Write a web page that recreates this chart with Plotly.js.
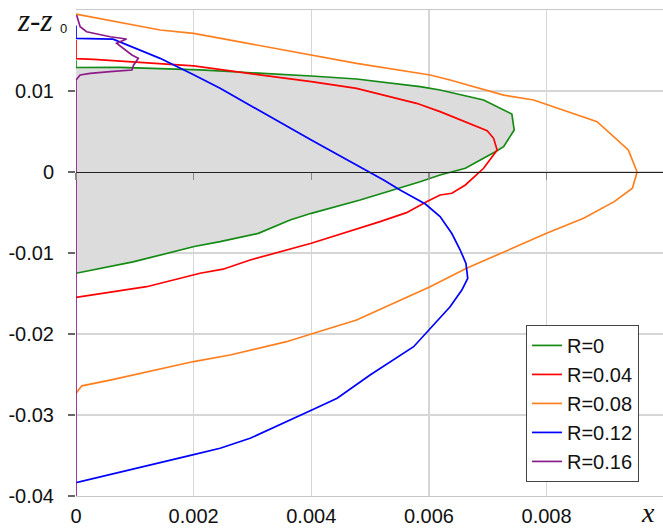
<!DOCTYPE html>
<html>
<head>
<meta charset="utf-8">
<script src="https://cdn.plot.ly/plotly-3.0.1.min.js"></script>
<style>html,body{margin:0;padding:0;background:#fff;}#chart{width:663px;height:529px;}</style>
</head>
<body>
<div id="chart"></div>
<script>
// R = 0
const r0x = [0, 0, 0.00075, 0.00143, 0.00211, 0.004, 0.00477, 0.00585, 0.00619, 0.00693, 0.00741, 0.00745, 0.00727, 0.00713, 0.00662, 0.00619, 0.00585, 0.00483, 0.004, 0.00364, 0.0031, 0.00245, 0.00201, 0.00097, 0];
const r0z = [0.0138, 0.0129, 0.01292, 0.01272, 0.0126, 0.01185, 0.01148, 0.01053, 0.01012, 0.00889, 0.00716, 0.00519, 0.00313, 0.00251, 0.00046, -0.00037, -0.0012, -0.00346, -0.0051, -0.00593, -0.00757, -0.0086, -0.0092, -0.0111, -0.0125];
// R = 0.04
const r04x = [0, 0, 0.0003, 0.00143, 0.002, 0.004, 0.00477, 0.00579, 0.00619, 0.00699, 0.0071, 0.00716, 0.00693, 0.00662, 0.00639, 0.00619, 0.00596, 0.00562, 0.00517, 0.004, 0.00296, 0.0025, 0.00211, 0.0012, 0];
const r04z = [0.0163, 0.0140, 0.0139, 0.0133, 0.01309, 0.01115, 0.01033, 0.00848, 0.00745, 0.0051, 0.00416, 0.00272, 0.00046, -0.0016, -0.00263, -0.00284, -0.00366, -0.00502, -0.00613, -0.0088, -0.01086, -0.012, -0.0125, -0.01416, -0.01547];
// R = 0.08
const r08x = [0, 0.00143, 0.002, 0.004, 0.00477, 0.00602, 0.00636, 0.00727, 0.00778, 0.00886, 0.00939, 0.00954, 0.00946, 0.00915, 0.00863, 0.008, 0.00721, 0.00664, 0.00602, 0.00551, 0.00477, 0.00404, 0.00358, 0.00262, 0.002, 0.00058, 0.0001, 0];
const r08z = [0.0195, 0.01753, 0.01712, 0.01444, 0.0134, 0.01198, 0.01136, 0.0095, 0.00889, 0.00621, 0.00272, 0.0, -0.00201, -0.00366, -0.00572, -0.00757, -0.01004, -0.01189, -0.01416, -0.0158, -0.01827, -0.01991, -0.02095, -0.02259, -0.0234, -0.0257, -0.0264, -0.0273];
// R = 0.12
const r12x = [0, 0, 0.00063, 0.00143, 0.002, 0.00245, 0.004, 0.00483, 0.005, 0.00523, 0.00551, 0.00594, 0.00619, 0.00639, 0.00653, 0.00663, 0.00666, 0.00656, 0.00636, 0.00602, 0.00574, 0.005, 0.00444, 0.00401, 0.00296, 0.00245, 0.002, 0];
const r12z = [0.0181, 0.0165, 0.0164, 0.01403, 0.012, 0.01033, 0.00395, 0.00065, 0.0, -0.00099, -0.00222, -0.00395, -0.0055, -0.0076, -0.0096, -0.01128, -0.01313, -0.01457, -0.01663, -0.0193, -0.02157, -0.02506, -0.02794, -0.02938, -0.03288, -0.0341, -0.0349, -0.03836];
// R = 0.16
const r16x = [0.00001, 0.00007, 0.00018, 0.00058, 0.00086, 0.00069, 0.00095, 0.00106, 0.00098, 0.00095, 0.00058, 0.00024, 0.00007, 0, 0];
const r16z = [0.01938, 0.01794, 0.01732, 0.0167, 0.01642, 0.01589, 0.01444, 0.01403, 0.01321, 0.01259, 0.01238, 0.01218, 0.01198, 0.01136, -0.04];

const seriesNames = ['R=0', 'R=0.04', 'R=0.08', 'R=0.12', 'R=0.16'];
const xTickVals = [0, 0.002, 0.004, 0.006, 0.008];
const xTickText = ['0', '0.002', '0.004', '0.006', '0.008'];
const yTickVals = [-0.04, -0.03, -0.02, -0.01, 0, 0.01];
const yTickText = ['-0.04', '-0.03', '-0.02', '-0.01', '0', '0.01'];

const colors = ['#138a13', '#ff0000', '#ff7f1e', '#0000ff', '#8b1a8b'];
const xs = [r0x, r04x, r08x, r12x, r16x];
const zs = [r0z, r04z, r08z, r12z, r16z];

const traces = [{
  x: r0x, y: r0z, mode: 'lines', fill: 'toself', fillcolor: '#dcdcdc',
  line: {width: 0, color: 'rgba(0,0,0,0)'}, showlegend: false, hoverinfo: 'skip'
}];
for (let i = 0; i < 5; i++) {
  traces.push({x: xs[i], y: zs[i], mode: 'lines', name: seriesNames[i],
    line: {color: colors[i], width: 1.7}});
}
traces.push({x: [null], y: [null], xaxis: 'x2', showlegend: false, mode: 'lines'});

const tickFont = {family: 'Liberation Sans, Arial, sans-serif', size: 20, color: '#111'};
const layout = {
  width: 663, height: 529,
  margin: {l: 76, r: 0, t: 10, b: 33},
  paper_bgcolor: '#fff', plot_bgcolor: '#fff',
  showlegend: true,
  xaxis: {
    range: [0, 0.00998], tickvals: xTickVals, ticktext: xTickText,
    showgrid: true, gridcolor: '#d6d6d6', gridwidth: 1.3,
    zeroline: false, showline: true, mirror: true, linecolor: '#c8c8c8', linewidth: 1.3,
    ticks: '', tickfont: tickFont, ticklabelstandoff: 2
  },
  xaxis2: {
    overlaying: 'x', anchor: 'free', position: 0.6667, side: 'bottom',
    range: [0, 0.00998], tickvals: xTickVals,
    showgrid: false, zeroline: false, showline: true, linecolor: '#222', linewidth: 1.2,
    ticks: 'outside', ticklen: 7, tickcolor: '#888', tickwidth: 1.2, showticklabels: false
  },
  yaxis: {
    range: [-0.04, 0.02], tickvals: yTickVals, ticktext: yTickText,
    showgrid: true, gridcolor: '#d6d6d6', gridwidth: 1.3,
    zeroline: false, showline: false,
    ticks: 'outside', ticklen: 7, tickcolor: '#666', tickwidth: 1.2,
    tickfont: tickFont, ticklabelstandoff: 10
  },
  legend: {
    x: 0.7666, y: 0.352, xanchor: 'left', yanchor: 'top',
    bgcolor: '#fff', bordercolor: '#444', borderwidth: 1,
    font: {family: 'Liberation Sans, Arial, sans-serif', size: 20, color: '#111'},
    itemwidth: 30
  },
  annotations: [
    {xref: 'paper', yref: 'paper', x: -0.104, y: 0.979, xanchor: 'left', yanchor: 'middle',
      text: 'z-z', showarrow: false,
      font: {family: 'Liberation Serif, Times New Roman, serif', size: 31, color: '#111', style: 'italic'}},
    {xref: 'paper', yref: 'paper', x: -0.021, y: 0.962, xanchor: 'center', yanchor: 'middle',
      text: '0', showarrow: false,
      font: {family: 'Liberation Sans, Arial, sans-serif', size: 13, color: '#111'}},
    {xref: 'paper', yref: 'paper', x: 0.974, y: -0.034, xanchor: 'center', yanchor: 'middle',
      text: 'x', showarrow: false,
      font: {family: 'Liberation Serif, Times New Roman, serif', size: 28, color: '#111', style: 'italic'}}
  ]
};
Plotly.newPlot('chart', traces, layout, {displayModeBar: false, staticPlot: true});
</script>
</body>
</html>
